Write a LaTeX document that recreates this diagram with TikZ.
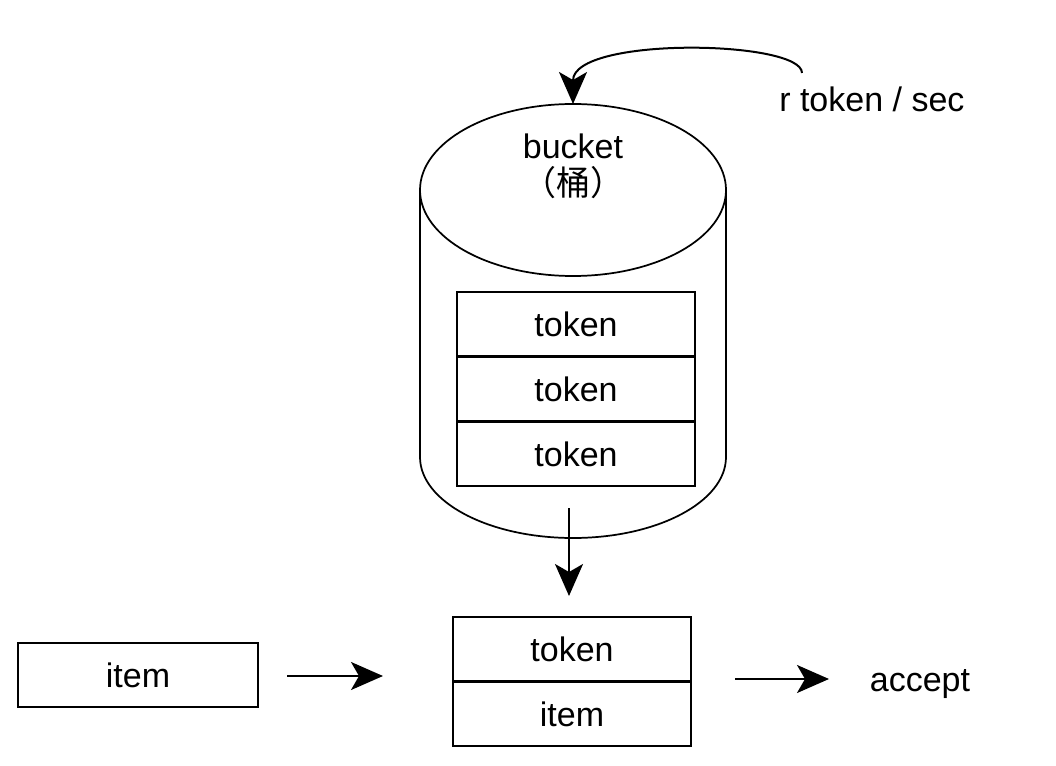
\documentclass[tikz,border=0pt]{standalone}
\usepackage{fontspec}
\setmainfont{Liberation Sans}
\newfontfamily\cjk{Noto Sans CJK SC}
\usetikzlibrary{arrows.meta}
\begin{document}
\begin{tikzpicture}[x=0.75pt,y=-0.75pt,
  every node/.style={font=\fontsize{25.5pt}{30pt}\selectfont, inner sep=0pt},
  cell/.style={draw, line width=1.5pt, minimum width=178.5pt, minimum height=48.6pt},
  conn/.style={line width=1.5pt, -{Stealth[length=24pt,width=21pt,inset=6pt]}}]
\useasboundingbox (0,0) rectangle (1056,766);
% cylinder
\draw[line width=1.3pt] (573,190) ellipse [x radius=153, y radius=86];
\draw[line width=1.3pt] (420,190) -- (420,457) arc[start angle=180, end angle=0, x radius=153, y radius=81] -- (726,190);
\coordinate (btop) at (573,104);
\node (bname) at (573,146) {bucket};
\node (bcjk) at (573,183) {\cjk （桶）};
% tokens in bucket
\node[cell] (t1) at (576,324) {token};
\node[cell] (t2) at (576,389) {token};
\node[cell] (t3) at (576,454) {token};
% rate
\coordinate (src) at (802,73);
\node[anchor=west] (rate) at (779,99) {r token / sec};
\draw[conn] (src) .. controls (802,40) and (573,36) .. (btop);
% output of bucket
\coordinate (bout) at (569,508);
\coordinate (bend) at (569,596);
\node[cell] (pt) at (572,649) {token};
\node[cell] (pi) at (572,714) {item};
\draw[conn] (bout) -- (bend);
% item
\node[cell, minimum width=180pt] (item) at (138,675) {item};
\coordinate (a1s) at (287,676);
\coordinate (a1e) at (383,676);
\draw[conn] (a1s) -- (a1e);
\coordinate (a2s) at (735,679);
\coordinate (a2e) at (829,679);
\draw[conn] (a2s) -- (a2e);
\node (acc) at (920,684) {accept};
\end{tikzpicture}
\end{document}
